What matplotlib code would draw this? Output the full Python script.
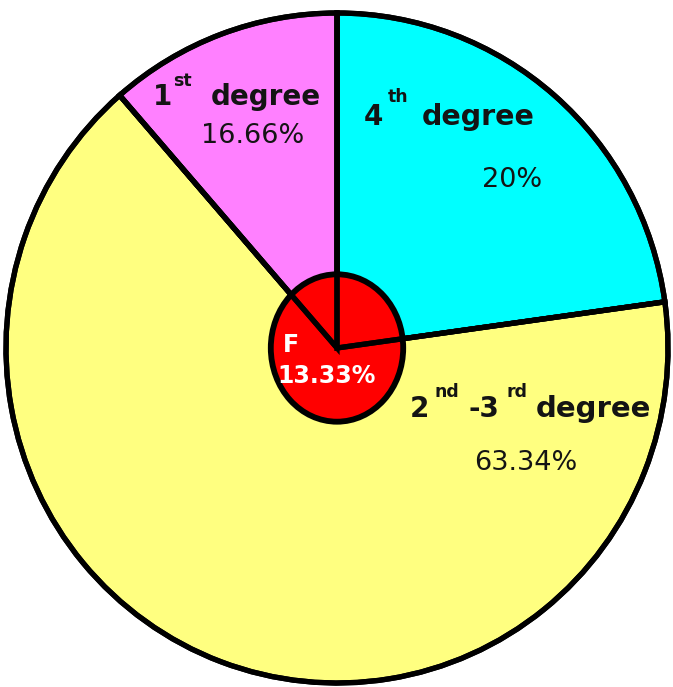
#!/usr/bin/env python3
"""
Pie chart: share of degrees, with a red centre disc for F.
"""

import matplotlib
matplotlib.use("Agg")
import matplotlib.pyplot as plt
from matplotlib.patches import Ellipse

# slices in drawing order (clockwise from 12 o'clock)
slice_names = ["4th degree", "2nd-3rd degree", "1st degree"]
slice_labels = ["20%", "63.34%", "16.66%"]
# wedge sizes as drawn in the picture (angles, in %)
slice_sizes = [22.8, 65.8, 11.4]
slice_colors = ["#00FFFF", "#FFFF80", "#FF80FF"]

center_name = "F"
center_label = "13.33%"

W, H = 673, 687
fig = plt.figure(figsize=(W / 100, H / 100), dpi=100)
ax = fig.add_axes([0, 0, 1, 1])

ax.pie(slice_sizes, colors=slice_colors, startangle=90, counterclock=False,
       radius=1.0, wedgeprops=dict(edgecolor="black", linewidth=3.8))

# centre disc for F
ax.add_patch(Ellipse((0, 0), 0.40, 0.44, facecolor="#FF0000",
                     edgecolor="black", linewidth=4.2, zorder=3))

# redraw the wedge borders over the disc
ax.pie(slice_sizes, colors=["none"] * 3, startangle=90, counterclock=False,
       radius=1.0, wedgeprops=dict(edgecolor="black", linewidth=3.8,
                                   fill=False, zorder=4))

ax.set_aspect("auto")
ax.set_xlim(-337 / 331, (W - 337) / 331)
ax.set_ylim(-(H - 348) / 335, 348 / 335)
ax.axis("off")

ink = "#141414"


def put(x, y, s, size=20, weight="bold", color=ink):
    # x, y in image pixels, baseline-left anchored
    ax.text(x / W, 1 - y / H, s, transform=ax.transAxes, fontsize=size,
            fontweight=weight, color=color, ha="left", va="baseline",
            zorder=5)


# 1st degree
put(153, 105, "1")
put(173, 86, "st", size=12.5)
put(211, 105, "degree")
put(201, 143, slice_labels[2], weight="normal", size=19.5)

# 4th degree
put(364, 125, "4")
put(388, 102, "th", size=12.5)
put(422, 125, "degree", size=20.5)
put(482, 187, slice_labels[0], weight="normal", size=19.5)

# 2nd-3rd degree
put(410, 417, "2")
put(435, 397, "nd", size=12.5)
put(469, 417, "-3")
put(507, 397, "rd", size=12.5)
put(536, 417, "degree", size=21)
put(474, 470, slice_labels[1], weight="normal", size=19.5)

# F
put(283, 352, center_name, size=17, color="white")
put(277, 383, center_label, size=17, color="white")

fig.savefig("out.png", dpi=100, facecolor="white")
